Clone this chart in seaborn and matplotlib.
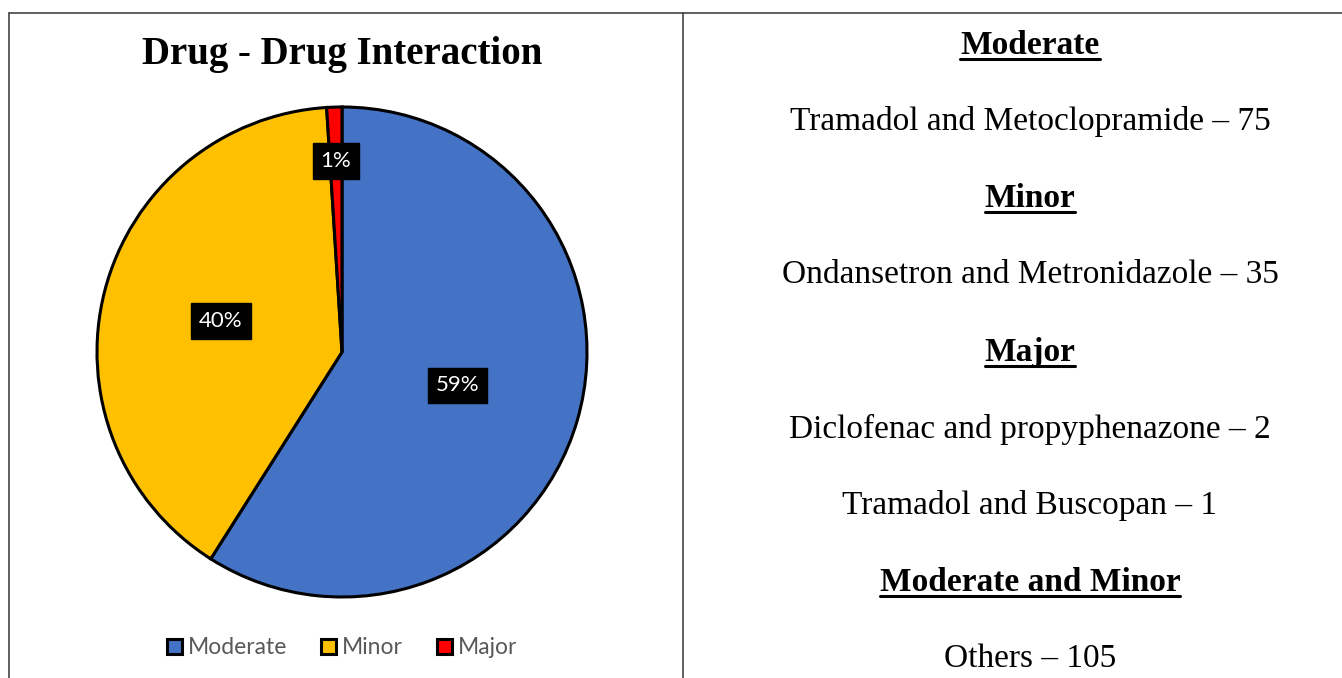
import matplotlib.pyplot as plt
import seaborn as sns
from matplotlib.lines import Line2D
import numpy as np

# data
categories = ['Moderate', 'Minor', 'Major']
shares = [59, 40, 1]
colors = ['#4472C4', '#FFC000', '#FF0000']
label_dist = [0.49, 0.51, 0.78]

notes = [
    ('Moderate', True),
    ('Tramadol and Metoclopramide \u2013 75', False),
    ('Minor', True),
    ('Ondansetron and Metronidazole \u2013 35', False),
    ('Major', True),
    ('Diclofenac and propyphenazone \u2013 2', False),
    ('Tramadol and Buscopan \u2013 1', False),
    ('Moderate and Minor', True),
    ('Others \u2013 105', False),
]
note_y = [54, 130, 207, 283, 361, 438, 514, 591, 667]   # baselines, px from top

sns.set_theme(style='white')
plt.rcParams['font.family'] = ['Lato', 'DejaVu Sans']
plt.rcParams['text.color'] = 'black'

W, H = 1342, 678
fig = plt.figure(figsize=(W / 100, H / 100), dpi=100)

# pie axes: centre (342, 352), radius 245 px
r, cx, cy = 245, 342, 352
pad = 1.03
side = 2 * r * pad
ax = fig.add_axes([(cx - side / 2) / W, (H - cy - side / 2) / H, side / W, side / H])
wedges, _ = ax.pie(shares, colors=colors, startangle=90, counterclock=False,
                   wedgeprops=dict(edgecolor='black', linewidth=2.2))
ax.set_xlim(-pad, pad)
ax.set_ylim(-pad, pad)
ax.set_aspect('equal')
ax.axis('off')

for w, s, d in zip(wedges, shares, label_dist):
    mid = np.deg2rad((w.theta1 + w.theta2) / 2)
    ax.text(d * np.cos(mid), d * np.sin(mid), f'{s}%', ha='center', va='center',
            color='white', fontsize=16,
            bbox=dict(boxstyle='square,pad=0.35', fc='black', ec='black'))

fig.text(cx / W, 1 - 64 / H, 'Drug - Drug Interaction', ha='center', va='baseline',
         family='Liberation Serif', fontweight='bold', fontsize=28, color='black')

leg = fig.legend(wedges, categories, loc='center', bbox_to_anchor=(cx / W, 1 - 648 / H),
                 ncol=3, frameon=False, fontsize=16.5, handlelength=0.65, handleheight=0.65,
                 handletextpad=0.25, columnspacing=1.5, borderaxespad=0)
for t in leg.get_texts():
    t.set_color('#595959')

# right-hand notes
texts = []
for (txt, head), y in zip(notes, note_y):
    t = fig.text(1030 / W, 1 - y / H, txt, ha='center', va='baseline',
                 family='Liberation Serif', fontsize=24, color='black',
                 fontweight='bold' if head else 'normal')
    texts.append((t, head, y))

fig.canvas.draw()
renderer = fig.canvas.get_renderer()
for t, head, y in texts:
    if head:
        bb = t.get_window_extent(renderer)
        uy = 1 - (y + 5) / H
        fig.add_artist(Line2D([bb.x0 / W, bb.x1 / W], [uy, uy], color='black', lw=2.2))

# table borders
grid = '#444444'
fig.add_artist(Line2D([9 / W, 1], [1 - 13 / H, 1 - 13 / H], color=grid, lw=1.2))
fig.add_artist(Line2D([9 / W, 9 / W], [0, 1 - 13 / H], color=grid, lw=1.2))
fig.add_artist(Line2D([683 / W, 683 / W], [0, 1 - 13 / H], color=grid, lw=1.2))

fig.savefig('out.png', dpi=100, facecolor='white')
